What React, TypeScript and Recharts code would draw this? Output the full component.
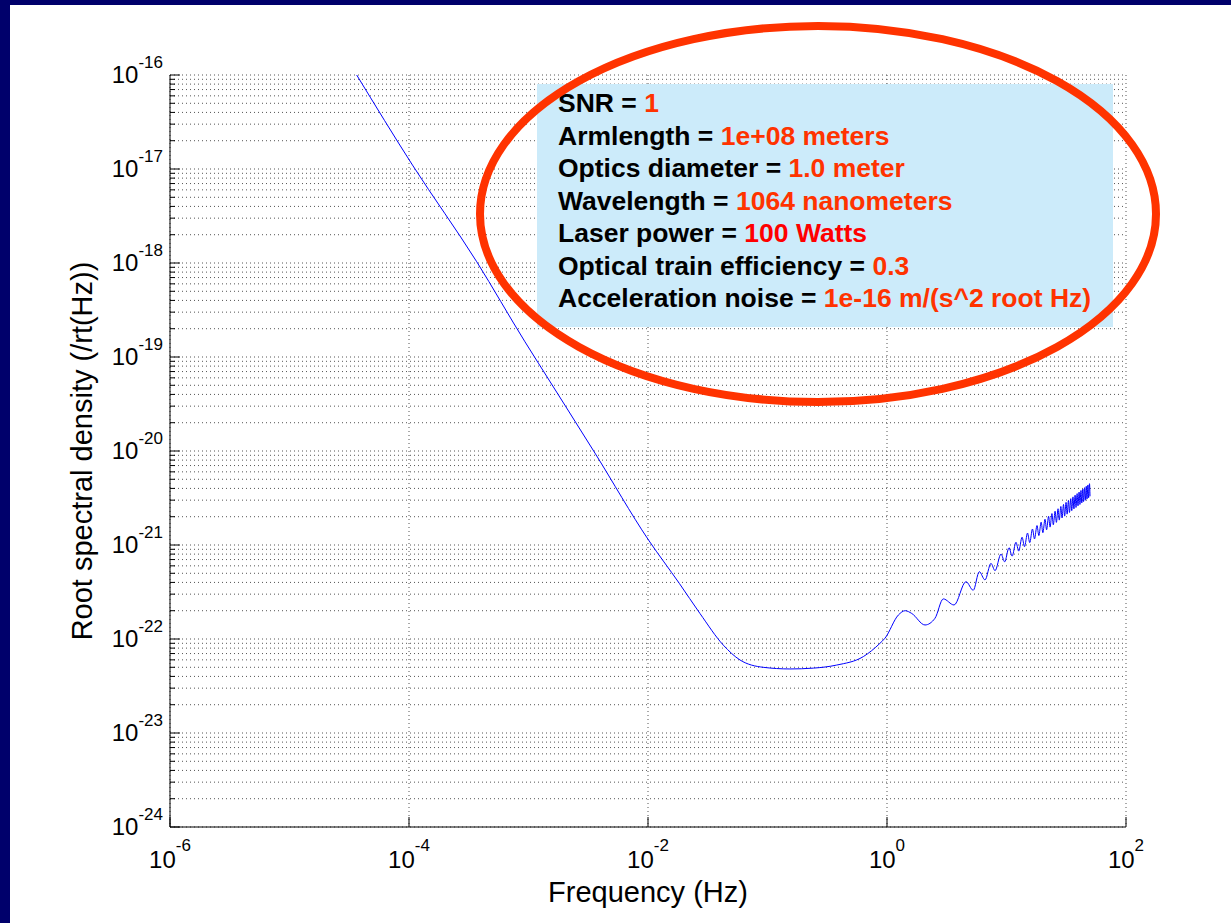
import { LineChart, Line, XAxis, YAxis, CartesianGrid, Label } from 'recharts';

// (Hz, 1/rt(Hz))
const freqHz = [
  3.65e-5, 1.07e-4, 3.69e-4, 9.35e-4, 1.21e-3, 3.6e-3, 1.01e-2, 1.83e-2, 2.72e-2, 4.27e-2,
  5.89e-2, 9.2e-2, 0.154, 0.242, 0.379, 0.634, 0.873, 0.962, 1.245, 1.42,
  1.61, 2.08, 2.52, 2.96, 3.64, 4.58, 5.27, 5.92, 6.61, 7.41,
  8.02, 9.0, 9.65, 10.5, 11.15, 12, 12.65, 13.5, 14.15, 15,
  15.65, 16.5, 17.15, 18, 18.65, 19.5, 20.15, 21, 21.65, 22.5,
  23.15, 24, 24.65, 25.5, 26.15, 27, 27.65, 28.5, 29.15, 30,
  30.65, 31.5, 32.15, 33, 33.65, 34.5, 35.15, 36, 36.65, 37.5,
  38.15, 39, 39.65, 40.5, 41.15, 42, 42.65, 43.5, 44.15, 45,
  45.65, 46.5, 47.15, 48, 48.65, 49.5, 50,
];
const asd = [
  1.0e-16, 1.1e-17, 1.03e-18, 1.45e-19, 8.6e-20, 9.5e-21, 1.13e-21, 3.9e-22, 1.87e-22, 8.6e-23,
  5.98e-23, 5.0e-23, 4.8e-23, 4.9e-23, 5.28e-23, 6.5e-23, 9.0e-23, 1.02e-22, 1.8e-22, 2.0e-22,
  1.87e-22, 1.41e-22, 1.66e-22, 2.67e-22, 2.3e-22, 4.07e-22, 3.3e-22, 5.2e-22, 4.25e-22, 6.38e-22,
  5.33e-22, 8.02e-22, 6.62e-22, 9.36e-22, 7.62e-22, 1.07e-21, 8.61e-22, 1.21e-21, 9.6e-22, 1.34e-21,
  1.06e-21, 1.48e-21, 1.16e-21, 1.61e-21, 1.26e-21, 1.75e-21, 1.35e-21, 1.88e-21, 1.45e-21, 2.02e-21,
  1.55e-21, 2.16e-21, 1.64e-21, 2.29e-21, 1.74e-21, 2.43e-21, 1.84e-21, 2.57e-21, 1.94e-21, 2.7e-21,
  2.03e-21, 2.84e-21, 2.13e-21, 2.98e-21, 2.22e-21, 3.11e-21, 2.32e-21, 3.25e-21, 2.42e-21, 3.39e-21,
  2.51e-21, 3.52e-21, 2.61e-21, 3.66e-21, 2.7e-21, 3.8e-21, 2.8e-21, 3.94e-21, 2.9e-21, 4.07e-21,
  2.99e-21, 4.21e-21, 3.08e-21, 4.35e-21, 3.18e-21, 4.49e-21, 3.3e-21,
];

const xTicks = [1e-6, 1e-4, 1e-2, 1, 100];
const yDecades = [1e-24, 1e-23, 1e-22, 1e-21, 1e-20, 1e-19, 1e-18, 1e-17, 1e-16];

const infoLabels = [
  'SNR', 'Armlength', 'Optics diameter', 'Wavelength', 'Laser power',
  'Optical train efficiency', 'Acceleration noise',
];
const infoValues = [
  '1', '1e+08 meters', '1.0 meter', '1064 nanometers', '100 Watts', '0.3', '1e-16 m/(s^2 root Hz)',
];
const infoColors = ['#ff3300', '#ff3300', '#ff3300', '#ff3300', '#ff0000', '#ff3300', '#ff3300'];

const data = freqHz.map((f, i) => ({ f, asd: asd[i] }));
const yTicks = yDecades.flatMap((d, i) =>
  i === yDecades.length - 1 ? [d] : [1, 2, 3, 4, 5, 6, 7, 8, 9].map((m) => m * d));

const FONT = '"Liberation Sans", Arial, Helvetica, sans-serif';
const NAVY = '#00006b';

const isMajor = (v: number) => {
  const l = Math.log10(v);
  return Math.abs(l - Math.round(l)) < 1e-6;
};
const expOf = (v: number) => Math.round(Math.log10(v));

const LeftTick = ({ x, y, payload }: any) => {
  const major = isMajor(payload.value);
  return (
    <g>
      <line x1={x} x2={x + (major ? 10 : 5)} y1={y} y2={y} stroke="#000" />
      {major && (
        <text x={x - 7} y={y + 8} textAnchor="end" fontFamily={FONT} fontSize={24} fill="#000">
          <tspan>10</tspan>
          <tspan dy={-15} fontSize={17}>{expOf(payload.value)}</tspan>
        </text>
      )}
    </g>
  );
};

const RightTick = ({ x, y, payload }: any) => {
  const major = isMajor(payload.value);
  return <line x1={x} x2={x - (major ? 10 : 5)} y1={y} y2={y} stroke="#000" />;
};

const BottomTick = ({ x, y, payload }: any) => (
  <g>
    <line x1={x} x2={x} y1={y} y2={y - 10} stroke="#000" />
    <text x={x} y={y + 41} textAnchor="middle" fontFamily={FONT} fontSize={24} fill="#000">
      <tspan>10</tspan>
      <tspan dy={-17} fontSize={17}>{expOf(payload.value)}</tspan>
    </text>
  </g>
);

const TopTick = ({ x, y }: any) => <line x1={x} x2={x} y1={y} y2={y + 10} stroke="#000" />;

export default function App() {
  return (
    <div style={{ position: 'absolute', left: 0, top: 0, width: 1231, height: 923, background: NAVY, overflow: 'hidden' }}>
      <div style={{ position: 'absolute', left: 10, top: 5, width: 1221, height: 918, background: '#fff' }} />
      <div style={{ position: 'absolute', left: 0, top: 0 }}>
        <LineChart width={1231} height={923} data={data} margin={{ top: 75, right: 105, bottom: 46, left: 70 }}>
          <CartesianGrid stroke="#555" strokeDasharray="1 3" />
          <XAxis
            dataKey="f" type="number" scale="log" domain={[1e-6, 100]} allowDataOverflow
            ticks={xTicks} interval={0} tickSize={0} tickMargin={0} tickLine={false}
            axisLine={{ stroke: '#000' }} height={50} tick={<BottomTick />}
          >
            <Label
              content={({ viewBox }: any) => (
                <text x={viewBox.x + viewBox.width / 2} y={viewBox.y + 75} textAnchor="middle"
                  fontFamily={FONT} fontSize={29} fill="#000">Frequency (Hz)</text>
              )}
            />
          </XAxis>
          <XAxis
            xAxisId="t" orientation="top" type="number" scale="log" domain={[1e-6, 100]} allowDataOverflow
            ticks={xTicks} interval={0} tickSize={0} tickMargin={0} tickLine={false}
            axisLine={{ stroke: '#000' }} height={0} tick={<TopTick />}
          />
          <YAxis
            type="number" scale="log" domain={[1e-24, 1e-16]} allowDataOverflow
            ticks={yTicks} interval={0} tickSize={0} tickMargin={0} tickLine={false}
            axisLine={{ stroke: '#000' }} width={100} tick={<LeftTick />}
          >
            <Label
              content={({ viewBox }: any) => {
                const cx = viewBox.x + 22;
                const cy = viewBox.y + viewBox.height / 2;
                return (
                  <text transform={`translate(${cx},${cy}) rotate(-90)`} textAnchor="middle"
                    fontFamily={FONT} fontSize={29} fill="#000">Root spectral density (/rt(Hz))</text>
                );
              }}
            />
          </YAxis>
          <YAxis
            yAxisId="r" orientation="right" type="number" scale="log" domain={[1e-24, 1e-16]} allowDataOverflow
            ticks={yTicks} interval={0} tickSize={0} tickMargin={0} tickLine={false}
            axisLine={{ stroke: '#000' }} width={0} tick={<RightTick />}
          />
          <Line
            dataKey="asd" type="monotone" stroke="#0000ff" strokeWidth={1}
            dot={false} activeDot={false} isAnimationActive={false}
          />
        </LineChart>
      </div>
      <svg width={1231} height={923} style={{ position: 'absolute', left: 0, top: 0, pointerEvents: 'none' }}>
        <rect x={537} y={84} width={576} height={243} fill="#ccebfa" />
        {infoLabels.map((lab, i) => (
          <text key={lab} x={558} y={112 + i * 32.5} fontFamily={FONT} fontSize={26.5} fontWeight="bold" fill="#000">
            <tspan>{lab + ' = '}</tspan>
            <tspan fill={infoColors[i]}>{infoValues[i]}</tspan>
          </text>
        ))}
        <ellipse cx={818} cy={214} rx={338} ry={188} fill="none" stroke="#ff3300" strokeWidth={8} />
      </svg>
    </div>
  );
}
